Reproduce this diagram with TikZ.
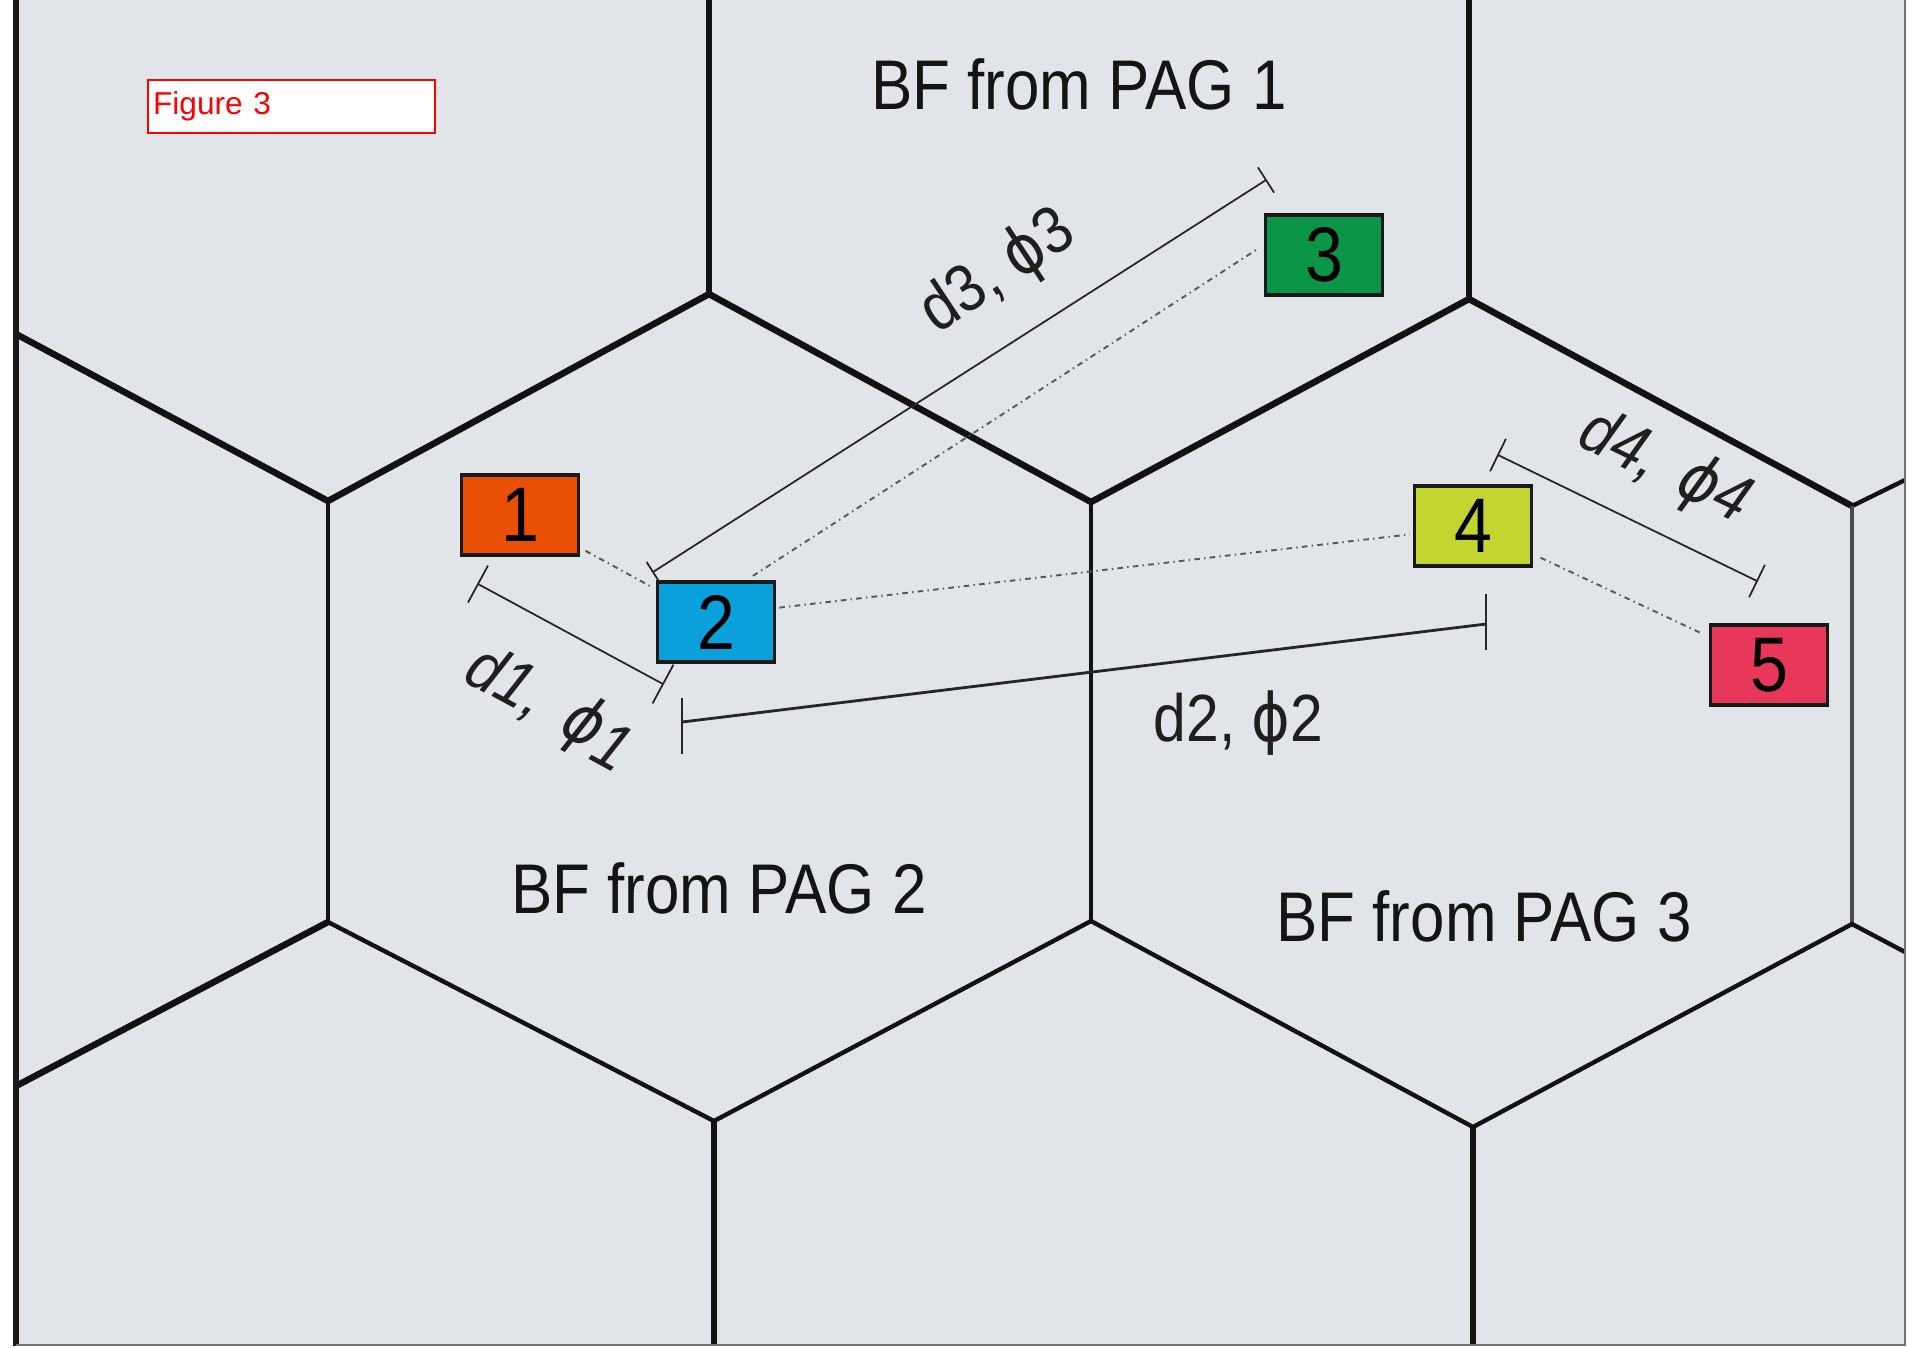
\documentclass[tikz,border=0pt]{standalone}
\usepackage{fontspec}
\setmainfont{Liberation Sans}
\newfontfamily\cond[FakeStretch=0.88]{Liberation Sans}
\newfontfamily\phif[FakeStretch=0.88]{DejaVu Sans}
\usetikzlibrary{calc}
\definecolor{bg}{RGB}{225,228,232}
\definecolor{c1}{RGB}{234,80,5}
\definecolor{c2}{RGB}{10,160,220}
\definecolor{c3}{RGB}{10,150,70}
\definecolor{c4}{RGB}{195,214,48}
\definecolor{c5}{RGB}{232,56,90}
\definecolor{hexc}{RGB}{18,18,18}
\tikzset{
 hexthick/.style={line width=1.85pt, draw=hexc},
 hexmed/.style={line width=1.25pt, draw=hexc},
 hexthin/.style={line width=0.9pt, draw=hexc},
 cell/.style={draw=black!90, line width=1.0pt, minimum width=1.17cm, minimum height=0.80cm, inner sep=0pt, font=\cond\fontsize{22}{22}\selectfont, text=black},
 region/.style={font=\cond\fontsize{20}{24}\selectfont, text=black!92, inner sep=0pt},
 dimlbl/.style={font=\cond\fontsize{19}{22}\selectfont, text=black!88, inner sep=0pt},
 dimln/.style={line width=0.5pt, draw=black!85},
 link/.style={line width=0.55pt, draw=black!65, dash pattern=on 1.6pt off 1.2pt on 0.4pt off 1.2pt},
}
\begin{document}
\begin{tikzpicture}[x=0.01cm,y=-0.01cm]
\useasboundingbox (0,0) rectangle (1907,1347);
\fill[white] (0,0) rectangle (1907,1347);
\fill[bg] (16,0) rectangle (1905,1345);
% hexagon vertices
\coordinate (A) at (709,294);
\coordinate (B) at (328,501);
\coordinate (C) at (1091,502);
\coordinate (D) at (1469,299);
\coordinate (E) at (1852,506);
\coordinate (F) at (328,922);
\coordinate (G) at (1091,921);
\coordinate (H) at (1852,924);
\coordinate (I) at (714,1121);
\coordinate (J) at (1473,1127);
\coordinate (L1) at (16,334);
\coordinate (L2) at (16,1086);
\coordinate (R1) at (1905,480);
\coordinate (R2) at (1905,952);
\coordinate (At) at (709,0);
\coordinate (Dt) at (1469,0);
\coordinate (Ib) at (714,1345);
\coordinate (Jb) at (1473,1345);
% hexagon edges
\draw[hexthick] (At) -- (A);
\draw[hexthick] (L1) -- (B) -- (A) -- (C) -- (D) -- (E);
\draw[hexthick] (Dt) -- (D);
\draw[hexmed] (E) -- (R1);
\draw[hexmed] (B) -- (F);
\draw[hexthin] (C) -- (G);
\draw[line width=1.3pt, draw=black!70] (E) -- (H);
\draw[hexthick] (L2) -- (F);
\draw[hexmed] (F) -- (I) -- (G) -- (J) -- (H) -- (R2);
\draw[hexthick] (I) -- (Ib);
\draw[hexthick] (J) -- (Jb);
% frame
\draw[line width=1.9pt, draw=black!90] (16,0) -- (16,1346);
\draw[line width=0.6pt, draw=black!55] (16,1345) -- (1905,1345) -- (1905,0);
% figure label
\node (fig) [draw=red, line width=0.6pt, fill=white, text=red, anchor=north west,
  minimum height=0.47cm, text width=2.77cm, inner xsep=0.05cm, align=left,
  font=\fontsize{9}{10}\selectfont] at (147,79) {Figure 3};
% region labels
\node (p1) [region] at (1079,84) {BF from PAG 1};
\node (p2) [region] at (719,888) {BF from PAG 2};
\node (p3) [region] at (1484,916) {BF from PAG 3};
% boxes
\node (b1) [cell, fill=c1] at (520,515) {1};
\node (b2) [cell, fill=c2] at (716,622) {2};
\node (b3) [cell, fill=c3] at (1324,255) {3};
\node (b4) [cell, fill=c4] at (1473,526) {4};
\node (b5) [cell, fill=c5] at (1769,665) {5};
% dash-dot links
\draw[link, shorten <=0.06cm, shorten >=0.06cm] (b1) -- (b2);
\draw[link, shorten <=0.08cm, shorten >=0.06cm] ($(b2.north)!0.5!(b2.north east)$) -- ([yshift=0.1cm]b3.west);
\draw[link, shorten <=0.03cm, shorten >=0.03cm] ([yshift=0.14cm]b2.east) -- ([yshift=-0.08cm]b4.west);
\draw[link, shorten <=0.08cm, shorten >=0.1cm] (b4) -- (b5);
% dimension d1
\coordinate (d1a) at (478,584);
\coordinate (d1b) at (663,684);
\draw[dimln] (d1a) -- (d1b);
\draw[dimln] ($(d1a)!0.21cm!90:(d1b)$) -- ($(d1a)!0.21cm!-90:(d1b)$);
\draw[dimln] ($(d1b)!0.22cm!90:(d1a)$) -- ($(d1b)!0.22cm!-90:(d1a)$);
\node (l1) [dimlbl, rotate=-28.5] at (550,707) {\itshape d1,\, {\phif\itshape ϕ}\raisebox{-0.25ex}{1}};
% dimension d2
\coordinate (d2a) at (682,722);
\coordinate (d2b) at (1486,624);
\draw[line width=0.8pt, draw=black!85] (d2a) -- (d2b);
\draw[line width=0.6pt, draw=black!85] (d2a) ++(0,-24) -- ++(0,56);
\draw[line width=0.6pt, draw=black!85] (d2b) ++(0,-30) -- ++(0,56);
\node (l2) [dimlbl, anchor=base west] at (1153,741) {d2, {\phif ϕ}2};
% dimension d3
\coordinate (d3a) at (653,572);
\coordinate (d3b) at (1266,180);
\draw[dimln] (d3a) -- (d3b);
\draw[dimln] ($(d3a)!0.12cm!90:(d3b)$) -- ($(d3a)!0.12cm!-90:(d3b)$);
\draw[dimln] ($(d3b)!0.15cm!90:(d3a)$) -- ($(d3b)!0.15cm!-90:(d3a)$);
\node (l3) [dimlbl, rotate=33.5] at (998,272) {d3, {\phif ϕ}3};
% dimension d4
\coordinate (d4a) at (1498,455);
\coordinate (d4b) at (1757,581);
\draw[dimln] (d4a) -- (d4b);
\draw[dimln] ($(d4a)!0.18cm!90:(d4b)$) -- ($(d4a)!0.18cm!-90:(d4b)$);
\draw[dimln] ($(d4b)!0.18cm!90:(d4a)$) -- ($(d4b)!0.18cm!-90:(d4a)$);
\node (l4) [dimlbl, rotate=-26] at (1665,468) {\itshape d4,\, {\phif\itshape ϕ}4};
\end{tikzpicture}
\end{document}
